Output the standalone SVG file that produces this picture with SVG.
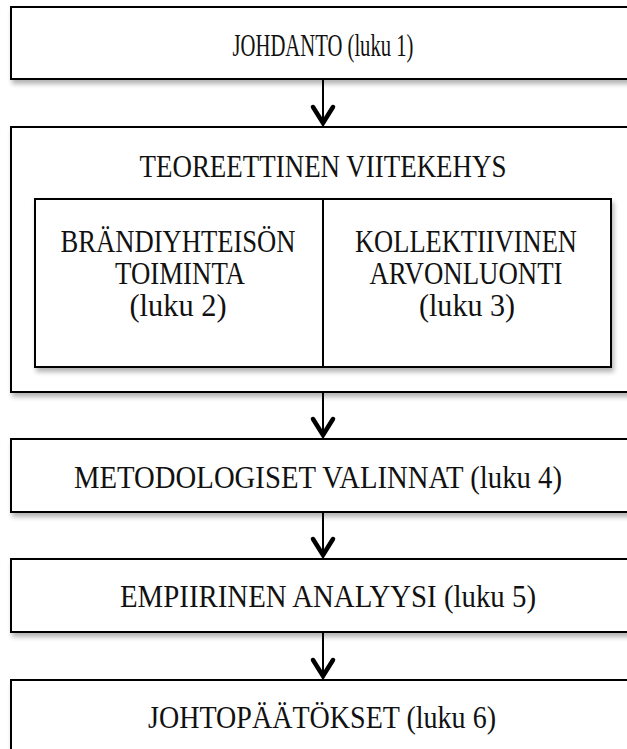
<svg xmlns="http://www.w3.org/2000/svg" width="627" height="749" viewBox="0 0 627 749">
  <defs>
    <filter id="shadow" x="-5%" y="-10%" width="115%" height="130%">
      <feGaussianBlur in="SourceAlpha" stdDeviation="2.5"/>
      <feOffset dx="2" dy="4" result="b"/>
      <feComponentTransfer><feFuncA type="linear" slope="0.3"/></feComponentTransfer>
      <feMerge><feMergeNode/><feMergeNode in="SourceGraphic"/></feMerge>
    </filter>
  </defs>
  <style>
    .box { fill: #ffffff; stroke: #000000; stroke-width: 2; }
    .lbl { font-family: "Liberation Serif", serif; font-size: 31px; fill: #111111; text-anchor: middle; }
    .line { stroke: #000000; stroke-width: 2; fill: none; }
    .head { stroke: #000000; stroke-width: 4.5; fill: none; stroke-linecap: round; stroke-linejoin: miter; }
  </style>
  <rect width="627" height="749" fill="#ffffff"/>

  <!-- vertical flow connectors with open chevron heads -->
  <g id="connectors">
    <line class="line" x1="323" y1="79" x2="323" y2="127"/>
    <polyline class="head" points="313,107 323,123 333,107"/>
    <line class="line" x1="323" y1="392" x2="323" y2="439"/>
    <polyline class="head" points="313,419 323,435 333,419"/>
    <line class="line" x1="323" y1="512" x2="323" y2="559"/>
    <polyline class="head" points="313,539 323,555 333,539"/>
    <line class="line" x1="323" y1="632" x2="323" y2="680"/>
    <polyline class="head" points="313,660 323,676 333,660"/>
  </g>

  <g id="johdanto">
    <rect class="box" x="11" y="7" width="630" height="72" filter="url(#shadow)"/>
    <text class="lbl" x="323" y="56" textLength="181" lengthAdjust="spacingAndGlyphs">JOHDANTO (luku 1)</text>
  </g>

  <g id="viitekehys">
    <rect class="box" x="11" y="127" width="630" height="265" filter="url(#shadow)"/>
    <text class="lbl" x="323" y="177" textLength="367" lengthAdjust="spacingAndGlyphs">TEOREETTINEN VIITEKEHYS</text>
    <rect class="box" x="35" y="199" width="576" height="168" filter="url(#shadow)"/>
    <line class="line" x1="323" y1="199" x2="323" y2="367"/>
  </g>

  <g id="brandiyhteiso">
    <text class="lbl" x="178" y="252" textLength="235" lengthAdjust="spacingAndGlyphs">BRÄNDIYHTEISÖN</text>
    <text class="lbl" x="180" y="284" textLength="130" lengthAdjust="spacingAndGlyphs">TOIMINTA</text>
    <text class="lbl" x="178" y="316" textLength="97" lengthAdjust="spacingAndGlyphs">(luku 2)</text>
  </g>

  <g id="arvonluonti">
    <text class="lbl" x="466" y="252" textLength="222" lengthAdjust="spacingAndGlyphs">KOLLEKTIIVINEN</text>
    <text class="lbl" x="466" y="284" textLength="193" lengthAdjust="spacingAndGlyphs">ARVONLUONTI</text>
    <text class="lbl" x="467" y="316" textLength="96" lengthAdjust="spacingAndGlyphs">(luku 3)</text>
  </g>

  <g id="metodologia">
    <rect class="box" x="11" y="439" width="630" height="73" filter="url(#shadow)"/>
    <text class="lbl" x="318" y="488" textLength="488" lengthAdjust="spacingAndGlyphs">METODOLOGISET VALINNAT (luku 4)</text>
  </g>

  <g id="analyysi">
    <rect class="box" x="11" y="559" width="630" height="73" filter="url(#shadow)"/>
    <text class="lbl" x="328" y="607" textLength="416" lengthAdjust="spacingAndGlyphs">EMPIIRINEN ANALYYSI (luku 5)</text>
  </g>

  <g id="johtopaatokset">
    <rect class="box" x="11" y="680" width="630" height="90" filter="url(#shadow)"/>
    <text class="lbl" x="322" y="728" textLength="348" lengthAdjust="spacingAndGlyphs">JOHTOPÄÄTÖKSET (luku 6)</text>
  </g>
</svg>
